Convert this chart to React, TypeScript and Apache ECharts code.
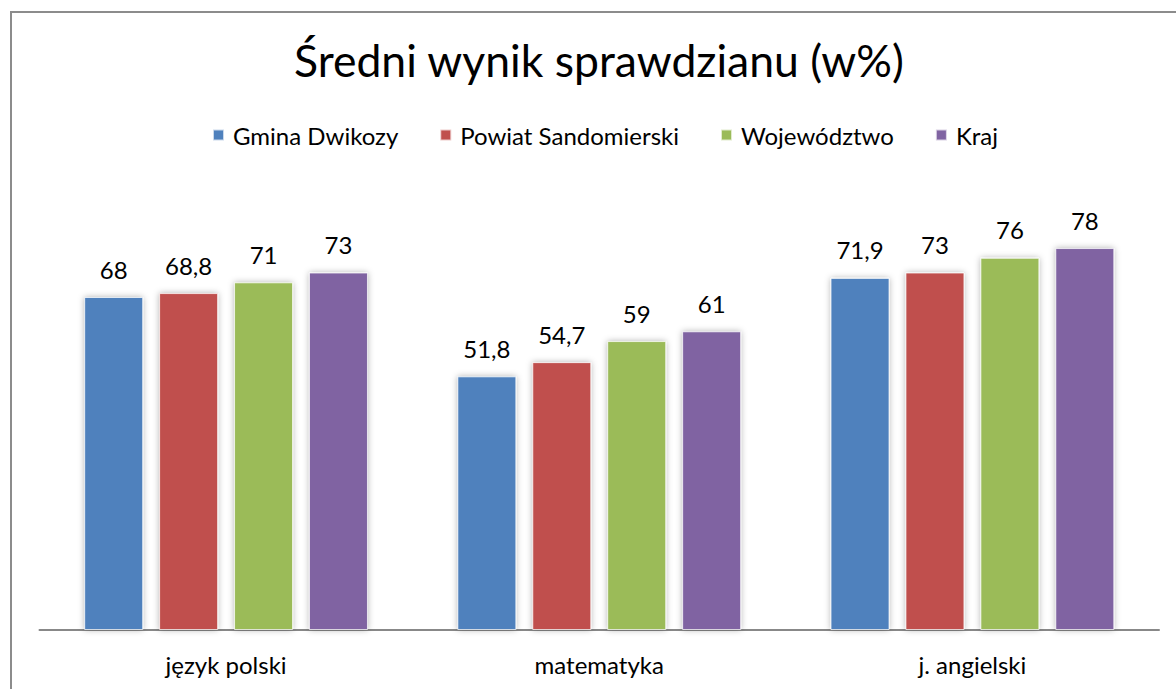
import React, { useEffect, useRef } from "react";
import * as echarts from "echarts";

const title = "Średni wynik sprawdzianu (w%)";
const categories = ["język polski", "matematyka", "j. angielski"];
const seriesNames = ["Gmina Dwikozy", "Powiat Sandomierski", "Województwo", "Kraj"];
const gminaDwikozy = [68, 51.8, 71.9];
const powiatSandomierski = [68.8, 54.7, 73];
const wojewodztwo = [71, 59, 76];
const kraj = [73, 61, 78];
const colors = ["#4F81BD", "#C0504D", "#9BBB59", "#8064A2"];

const FONT = "Lato, 'Open Sans', sans-serif";

export default function App() {
  const ref = useRef<HTMLDivElement>(null);
  useEffect(() => {
    if (!ref.current) return;
    const chart = echarts.init(ref.current, null, { renderer: "svg" });
    const values = [gminaDwikozy, powiatSandomierski, wojewodztwo, kraj];
    chart.setOption({
      animation: false,
      backgroundColor: "#ffffff",
      textStyle: { fontFamily: FONT },
      title: {
        text: title,
        left: 289,
        top: 32,
        textStyle: { fontSize: 44.5, fontWeight: "normal", color: "#000", fontFamily: FONT },
      },
      legend: {
        data: seriesNames,
        left: 207,
        top: 118,
        itemWidth: 11,
        itemHeight: 11,
        itemGap: 41,
        icon: "rect",
        textStyle: { fontSize: 24, color: "#000", fontFamily: FONT, padding: [0, 0, 0, 4] },
      },
      graphic: [
        {
          type: "rect",
          shape: { x: 11, y: 12, width: 1400, height: 1000 },
          style: { fill: "none", stroke: "#8c8c8c", lineWidth: 2 },
          z: -1,
        },
      ],
      grid: { left: 39.5, width: 1119.5, top: 140.3, bottom: 59 },
      xAxis: {
        type: "category",
        data: categories,
        axisLine: { show: true, lineStyle: { color: "#888", width: 2 } },
        axisTick: { show: false },
        axisLabel: { fontSize: 24, color: "#000", margin: 22, fontFamily: FONT },
      },
      yAxis: {
        type: "value",
        min: 0,
        max: 100,
        show: false,
        splitLine: { show: false },
      },
      series: seriesNames.map((name, i) => ({
        name,
        type: "bar",
        data: values[i],
        barWidth: 59,
        barGap: "27%",
        itemStyle: {
          color: colors[i],
          borderColor: "rgba(255,255,255,0.7)",
          borderWidth: 1,
          shadowBlur: 6,
          shadowColor: "rgba(0,0,0,0.3)",
        },
        label: {
          show: true,
          position: "top",
          distance: 16,
          fontSize: 24,
          color: "#000",
          fontFamily: FONT,
          formatter: (p: any) => String(p.value).replace(".", ","),
        },
      })),
    });
    return () => chart.dispose();
  }, []);
  return (
    <div
      ref={ref}
      style={{ position: "fixed", left: 0, top: 0, width: 1176, height: 689 }}
    />
  );
}
